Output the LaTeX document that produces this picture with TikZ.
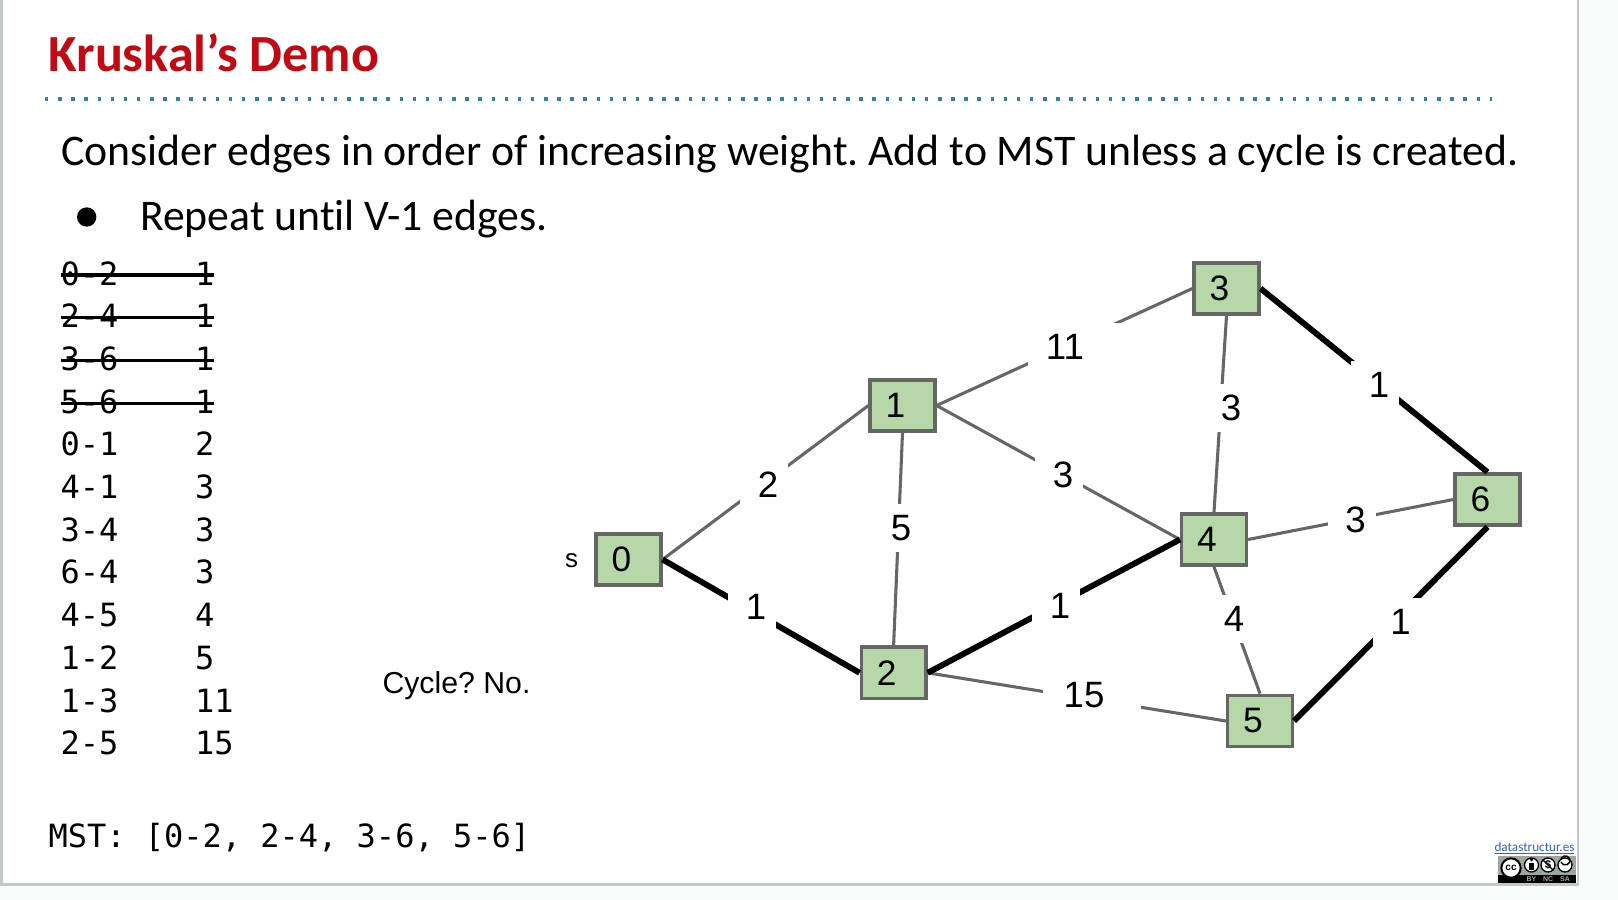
\documentclass[tikz,border=0pt]{standalone}
\usepackage{fontspec}
\setmainfont{Carlito}[RawFeature={-liga}]
\newfontfamily\arialf{Liberation Sans}
\newfontfamily\monof{DejaVu Sans Mono}
\newcommand{\sz}[1]{\fontsize{#1}{#1}\selectfont}
\definecolor{edgegrey}{HTML}{666666}
\definecolor{nodegreen}{HTML}{B6D7A8}
\definecolor{titlered}{HTML}{C00A14}
\definecolor{dotblue}{HTML}{2E7EC0}
\definecolor{framegrey}{HTML}{C3C8C5}
\definecolor{outside}{HTML}{F8FCFB}
\definecolor{linkblue}{HTML}{2F62D0}
\definecolor{ccgrey}{HTML}{9CA89F}
\tikzset{
  x=0.75pt,y=-0.75pt,
  vertexbox/.style={draw=edgegrey,line width=2.6pt,fill=nodegreen,minimum width=48.5pt,minimum height=38.5pt,inner sep=0pt,font=\arialf\sz{26.5}},
  thin edge/.style={draw=edgegrey,line width=2.3pt},
  mst edge/.style={draw=black,line width=4.4pt},
  weight/.style={fill=white,inner sep=0pt,minimum width=36pt,minimum height=36pt,font=\arialf\sz{27.5}},
  wide weight/.style={fill=white,inner sep=0pt,minimum width=73.5pt,minimum height=36pt,font=\arialf\sz{27.5}},
  txt/.style={anchor=base west,inner sep=0pt,outer sep=0pt},
  mono/.style={txt,font=\monof\sz{24}},
}
\newcommand{\vt}[1]{\makebox[0pt]{#1\kern 10.5pt}}
\newcommand{\wt}[1]{\makebox[0pt]{\kern 6pt #1}}
\newcommand{\wwt}[2][18pt]{\makebox[0pt]{#2\kern #1}}
\begin{document}
\frenchspacing
\begin{tikzpicture}
\useasboundingbox (0,0) rectangle (1618,900);
\fill[outside] (0,0) rectangle (1618,900);
\fill[white] (0,0) rectangle (1578,883);
\fill[framegrey] (0,0) rectangle (3,886);
\fill[framegrey] (0,883) rectangle (1578,886);
\fill[framegrey] (1576.5,0) rectangle (1578.5,886);

% heading
\node[txt,text=titlered,font=\bfseries\sz{39.1}] (title) at (48.5,71) {Kruskal’s Demo};
\coordinate (dotL) at (45,99);
\coordinate (dotR) at (1492,99);
\draw[dotblue,line width=2.6pt,dash pattern=on 2.6pt off 7.25pt] (dotL) -- (dotR);
\node[txt,font=\sz{32.8}] (line1) at (61,165) {Consider edges in order of increasing weight. Add to MST unless a cycle is created.};
\node[circle,fill=black,minimum size=14.5pt,inner sep=0pt] (bullet) at (86.7,217) {};
\node[txt,font=\sz{32.8}] (line2) at (140,230) {Repeat until V-1 edges.};

% edge list
\foreach \i/\a/\b in {0/0-2/1,1/2-4/1,2/3-6/1,3/5-6/1,4/0-1/2,5/4-1/3,6/3-4/3,7/6-4/3,8/4-5/4,9/1-2/5,10/1-3/11,11/2-5/15}{
  \node[mono] (ea\i) at (60.5,285+42.7*\i) {\a};
  \node[mono] (eb\i) at (195,285+42.7*\i) {\b};
}
\foreach \i in {0,1,2,3}{
  \draw[black,line width=2.3pt] (60.5,275+42.7*\i) -- (214,275+42.7*\i);
}
\node[txt,font=\monof\sz{24}] (mst) at (48.5,847.5) {MST: [0-2, 2-4, 3-6, 5-6]};
\node[txt,font=\arialf\sz{22.7}] (cyc) at (382.5,693) {Cycle? No.};
\node[txt,font=\arialf\sz{19.5}] (slab) at (565,567) {s};

% vertices
\node[vertexbox] (n0) at (628.5,559.5) {\vt{0}};
\node[vertexbox] (n1) at (902.5,405.5) {\vt{1}};
\node[vertexbox] (n2) at (893.6,672.8) {\vt{2}};
\node[vertexbox] (n3) at (1226.5,288.5) {\vt{3}};
\node[vertexbox] (n4) at (1214,539.5) {\vt{4}};
\node[vertexbox] (n5) at (1260,721) {\vt{5}};
\node[vertexbox] (n6) at (1487.5,499.5) {\vt{6}};

% edges
\draw[thin edge] (n0.east) -- (n1.west);
\draw[thin edge] (n1.east) -- (n3.west);
\draw[thin edge] (n1.east) -- (n4.west);
\draw[thin edge] (n1.south) -- (n2.north);
\draw[thin edge] (n2.east) -- (n5.west);
\draw[thin edge] (n3.south) -- (n4.north);
\draw[thin edge] (n4.east) -- (n6.west);
\draw[thin edge] (n4.south) -- (n5.north);
\draw[mst edge] (n0.east) -- (n2.west);
\draw[mst edge] (n2.east) -- (n4.west);
\draw[mst edge] (n3.east) -- (n6.north);
\draw[mst edge] (n5.east) -- (n6.south);

% weights
\node[weight] (w01) at (764,485) {\wt{2}};
\node[weight] (w02) at (752,607) {\wt{1}};
\node[weight] (w12) at (897,528) {\wt{5}};
\node[wide weight] (w13) at (1077,346.5) {\wwt{11}};
\node[weight] (w14) at (1059,475) {\wt{3}};
\node[weight] (w34) at (1227,408) {\wt{3}};
\node[weight] (w36) at (1375,385) {\wt{1}};
\node[weight] (w46) at (1351.5,520) {\wt{3}};
\node[weight] (w24) at (1056,606) {\wt{1}};
\node[weight] (w45) at (1230,619) {\wt{4}};
\node[wide weight] (w25) at (1092,695.5) {\wwt[12pt]{15}};
\node[weight] (w56) at (1396.5,622) {\wt{1}};

% licence badge
\node[anchor=base,inner sep=0pt,text=linkblue,font=\sz{9.9}] (site) at (1534.5,851) {\underline{datastructur.es}};
\fill[ccgrey] (1497.5,856) rectangle (1576,875);
\fill[black] (1497.5,875) rectangle (1576,883);
\node[circle,draw=black,line width=1.5pt,fill=white,minimum size=14.5pt,inner sep=0pt,font=\bfseries\arialf\sz{7.5}] (cc) at (1511,868) {cc};
\node[circle,draw=black,line width=1pt,fill=white,minimum size=10.5pt,inner sep=0pt] (by) at (1531.5,865) {};
\fill[black] (1531.5,859.8) circle (1.6);
\fill[black] (1529,862.5) rectangle (1534,870);
\node[circle,draw=black,line width=1pt,fill=white,minimum size=10.5pt,inner sep=0pt,font=\bfseries\arialf\sz{8.5}] (nc) at (1548,865) {\$};
\draw[black,line width=.8pt] (nc.north west) -- (nc.south east);
\node[circle,draw=black,line width=1pt,fill=white,minimum size=10.5pt,inner sep=0pt] (sa) at (1565,865) {};
\draw[black,line width=1.1pt] (1561,862) arc[start angle=160,end angle=-160,radius=4.6];
\node[text=ccgrey,inner sep=0pt,font=\bfseries\arialf\sz{5.2}] (bytxt) at (1531.5,879.3) {BY};
\node[text=ccgrey,inner sep=0pt,font=\bfseries\arialf\sz{5.2}] (nctxt) at (1548,879.3) {NC};
\node[text=ccgrey,inner sep=0pt,font=\bfseries\arialf\sz{5.2}] (satxt) at (1565,879.3) {SA};
\end{tikzpicture}
\end{document}
